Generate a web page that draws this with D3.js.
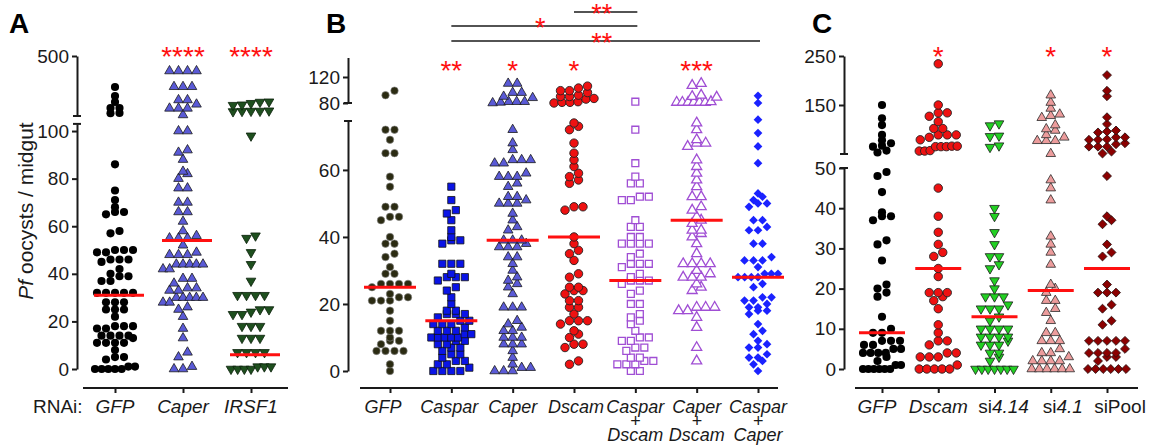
<!DOCTYPE html>
<html>
<head>
<meta charset="utf-8">
<script src="https://cdn.jsdelivr.net/npm/d3@7"></script>
<style>
  body { margin: 0; background: #fff; }
  text { font-family: "Liberation Sans", Arial, sans-serif; fill: #1a1a1a; }
</style>
</head>
<body>
<div id="chart"></div>
<script>
// ---- data (oocysts per midgut) ----
var groupsA = ["GFP", "Caper", "IRSF1"]
var aGFP = [293, 233, 193, 153, 153, 120, 118, 86, 75, 71, 68, 66, 66, 65, 58, 57, 50, 50, 50, 49, 49, 46, 46, 46, 45, 42, 40, 39, 39, 37, 37, 32, 32, 32, 32, 32, 28, 28, 28, 25, 25, 25, 22, 18, 18, 18, 17, 17, 14, 14, 14, 14, 13, 11, 11, 11, 11, 8, 5, 5, 4, 1, 1, 0, 0, 0, 0, 0]
var aCaper = [400, 400, 400, 400, 295, 295, 295, 207, 207, 178, 151, 151, 151, 107, 100, 100, 92, 91, 88, 83, 82, 80, 76, 76, 70, 70, 66, 66, 62, 58, 56, 55, 55, 55, 52, 49, 48, 48, 48, 44, 44, 44, 44, 44, 42, 42, 38, 38, 36, 34, 34, 33, 33, 30, 30, 30, 30, 30, 28, 28, 26, 25, 22, 17, 13, 7, 5, 1, 0, 0]
var aIRSF1 = [195, 193, 185, 175, 172, 135, 133, 133, 132, 130, 98, 56, 55, 49, 44, 37, 31, 31, 31, 31, 25, 25, 24, 23, 23, 18, 18, 18, 13, 13, 13, 7, 7, 7, 7, 1, 1, 1, 0, 0, 0, 0]
var medA = [31, 54, 6]
var starsA = ["", "****", "****"]

var groupsB = ["GFP", "Caspar", "Caper", "Dscam", "Caspar+Dscam", "Caper+Dscam", "Caspar+Caper"]
var bGFP = [99, 92, 72, 72, 69, 65, 65, 58, 55, 49, 49, 46, 46, 45, 40, 38, 38, 35, 34, 31, 29, 29, 26, 26, 26, 26, 25, 23, 22, 22, 21, 21, 21, 18, 15, 12, 12, 12, 10, 9, 9, 8, 6, 6, 6, 6, 2, 0]
var bCaspar = [55, 51, 48, 47, 45, 42, 40, 39, 39, 38, 32, 32, 32, 29, 28, 28, 28, 27, 25, 24, 22, 20, 18, 18, 17, 17, 17, 16, 15, 15, 14, 14, 14, 13, 12, 12, 12, 11, 11, 10, 10, 10, 10, 10, 9, 9, 8, 8, 7, 7, 6, 5, 5, 4, 3, 3, 2, 2, 1, 0, 0, 0, 0]
var bCaper = [110, 110, 96, 96, 90, 88, 82, 82, 82, 81, 80, 72, 68, 66, 63, 63, 63, 62, 62, 59, 58, 58, 58, 56, 55, 52, 52, 51, 50, 50, 50, 47, 45, 43, 42, 39, 39, 39, 38, 37, 37, 37, 34, 34, 32, 30, 28, 27, 26, 25, 23, 19, 19, 19, 15, 14, 13, 12, 12, 10, 10, 10, 8, 8, 8, 6, 4, 2, 1, 1, 0, 0, 0]
var bDscam = [106, 103, 99, 99, 96, 92, 90, 90, 87, 86, 82, 81, 81, 80, 74, 73, 72, 68, 65, 63, 61, 59, 58, 57, 56, 49, 49, 48, 40, 38, 36, 35, 33, 29, 28, 25, 25, 24, 24, 23, 21, 21, 19, 19, 17, 15, 15, 15, 14, 12, 11, 10, 8, 8, 7, 3, 2]
var bCasDs = [82, 72, 62, 58, 56, 56, 52, 52, 51, 51, 45, 43, 43, 40, 40, 38, 38, 38, 38, 35, 34, 32, 32, 32, 31, 29, 28, 27, 27, 27, 26, 24, 23, 20, 20, 17, 16, 15, 14, 12, 10, 10, 9, 9, 7, 7, 6, 4, 4, 3, 3, 2, 2, 2, 0, 0]
var bCapDs = [110, 107, 92, 90, 89, 82, 81, 81, 81, 81, 81, 81, 74, 72, 69, 68, 68, 67, 63, 61, 59, 57, 55, 52, 52, 49, 48, 46, 45, 44, 42, 42, 41, 40, 38, 35, 32, 32, 32, 32, 30, 29, 28, 28, 28, 26, 25, 24, 19, 19, 19, 18, 18, 16, 13, 7, 3]
var bCasCap = [91, 80, 75, 71, 67, 62, 53, 52, 51, 50, 50, 49, 45, 45, 43, 42, 42, 38, 38, 34, 33, 33, 33, 31, 29, 29, 29, 28, 28, 28, 28, 26, 25, 22, 22, 21, 21, 20, 19, 19, 18, 18, 17, 14, 12, 11, 9, 8, 7, 7, 5, 4, 4, 3, 2, 0]
var medB = [25, 15, 39, 40, 27, 45, 28]
var starsB = ["", "**", "*", "*", "", "***", ""]
// pairwise comparisons drawn above panel B: [from group, to group, stars]
var compB = [[3, 4, "**"], [1, 4, "*"], [1, 6, "**"]]

var groupsC = ["GFP", "Dscam", "si4.14", "si4.1", "siPool"]
var cGFP = [150, 123, 109, 89, 78, 72, 67, 65, 57, 53, 49, 48, 44, 39, 38, 38, 37, 32, 31, 27, 21, 20, 19, 18, 13, 10, 9, 9, 7, 7, 7, 6, 6, 5, 5, 4, 4, 4, 4, 3, 2, 1, 1, 0, 0, 0, 0, 0, 0]
var cDscam = [234, 150, 134, 134, 127, 116, 102, 102, 89, 89, 89, 84, 79, 66, 66, 65, 65, 65, 57, 56, 56, 45, 38, 34, 31, 29, 28, 25, 23, 19, 19, 19, 18, 17, 15, 11, 9, 7, 7, 6, 4, 4, 3, 3, 3, 1, 0, 0, 0, 0, 0]
var cSi414 = [112, 108, 87, 86, 67, 64, 40, 38, 34, 31, 28, 28, 26, 25, 22, 20, 18, 18, 18, 16, 15, 15, 15, 13, 12, 10, 10, 10, 10, 8, 8, 8, 8, 7, 6, 6, 6, 4, 4, 3, 2, 0, 0, 0, 0, 0, 0, 0]
var cSi41 = [170, 155, 143, 131, 128, 124, 109, 101, 98, 89, 84, 77, 77, 77, 50.5, 47, 45, 42, 33, 31, 29, 26, 21, 20, 19, 17, 17, 15, 14, 12, 9, 9, 7, 7, 7, 5, 4, 4, 3, 2, 2, 2, 2, 0, 0, 0, 0, 0, 0]
var cSiPool = [211, 179, 168, 125, 111, 98, 96, 94, 84, 84, 80, 79, 79, 72, 70, 65, 65, 65, 55, 51, 48, 38, 37, 36, 31, 29, 28, 21, 19, 19, 19, 16, 15, 12, 11, 7, 7, 7, 7, 7, 5, 4, 4, 4, 4, 3, 3, 2, 0, 0, 0, 0, 0, 0]
var medC = [9, 25, 13, 19.5, 25]
var starsC = ["", "*", "", "*", "*"]

// ---- drawing ----
var width = 1157, height = 447
var svg = d3.select("#chart").append("svg")
    .attr("width", width).attr("height", height)

var axisColor = "#1a1a1a"

// marker styles
var circle = d3.symbolCircle, tri = d3.symbolTriangle, sq = d3.symbolSquare
function sty(sym, size, fill, stroke, sw, rot) {
    return { sym: sym, size: size, fill: fill, stroke: stroke || "none", sw: sw || 0, rot: rot || 0 }
}

// Prism-like layout: points close in y share a row, rows are centred on the group
function rowLayout(vals, yf, gap, step, maxW) {
    var pts = vals.slice().sort((a, b) => a - b).map(v => ({ v: v, y: yf(v), x: 0 }))
    var row = []
    function flush() {
        var n = row.length
        var s = n > 1 ? Math.min(step, maxW / (n - 1)) : 0
        row.forEach((p, k) => { p.x = (k - (n - 1) / 2) * s })
        row = []
    }
    pts.forEach(function (p) {
        if (row.length && Math.abs(p.y - row[0].y) >= gap) flush()
        row.push(p)
    })
    flush()
    return pts
}

// draws a broken y axis: two scales, each with its own axis piece
function brokenAxis(g, x, low, lowTicks, up, upTicks) {
    var a1 = g.append("g").attr("transform", "translate(" + x + ",0)")
        .call(d3.axisLeft(low).tickValues(lowTicks).tickSize(5).tickPadding(3).tickSizeOuter(0))
    var a2 = g.append("g").attr("transform", "translate(" + x + ",0)")
        .call(d3.axisLeft(up).tickValues(upTicks).tickSize(5).tickPadding(3).tickSizeOuter(0))
    ;[a1, a2].forEach(function (a) {
        a.selectAll("path, line").attr("stroke", axisColor).attr("stroke-width", 2)
        a.selectAll("text").attr("font-size", 19).attr("fill", axisColor)
            .attr("font-family", "Liberation Sans, Arial, sans-serif")
    })
    // little caps at the break
    var capY = [up.range()[0], low.range()[1]]
    g.selectAll(null).data(capY).enter().append("line")
        .attr("x1", x - 4).attr("x2", x + 4)
        .attr("y1", d => d).attr("y2", d => d)
        .attr("stroke", axisColor).attr("stroke-width", 2)
}

function drawPanel(p) {
    var g = svg.append("g")
    var yOf = v => (v > p.cut ? p.up(v) : p.low(v))
    brokenAxis(g, p.axisX, p.low, p.lowTicks, p.up, p.upTicks)

    // x axis line with ticks
    g.append("g").attr("transform", "translate(0," + p.baseY + ")")
        .call(d3.axisBottom(p.x).tickSize(5).tickSizeOuter(0).tickFormat(""))
        .call(a => a.select(".domain").attr("d", "M" + p.xLine[0] + ",0H" + p.xLine[1]))
        .selectAll("path, line").attr("stroke", axisColor).attr("stroke-width", 2)

    // points
    p.groups.forEach(function (grp, i) {
        var s = p.styles[i]
        var pts = rowLayout(p.values[i], yOf, p.gap, 9, p.maxW)
        var cx = p.x(grp)
        g.append("g").selectAll("path").data(pts).enter().append("path")
            .attr("d", d3.symbol().type(s.sym).size(s.size))
            .attr("transform", d => "translate(" + (cx + d.x) + "," + d.y + ") rotate(" + s.rot + ")")
            .attr("fill", s.fill).attr("stroke", s.stroke).attr("stroke-width", s.sw)
    })

    // medians
    g.selectAll(".med").data(p.med).enter().append("line")
        .attr("x1", (d, i) => p.x(p.groups[i]) + p.medDx - p.medW)
        .attr("x2", (d, i) => p.x(p.groups[i]) + p.medDx + p.medW)
        .attr("y1", d => yOf(d)).attr("y2", d => yOf(d))
        .attr("stroke", "#ff1010").attr("stroke-width", 3)

    // significance stars
    g.selectAll(".star").data(p.stars).enter().append("text")
        .attr("x", (d, i) => p.x(p.groups[i]))
        .attr("y", p.starY)
        .attr("text-anchor", "middle").attr("font-size", 28)
        .style("fill", "#ff1010").text(d => d)

    // panel letter
    g.append("text").attr("x", p.letterX).attr("y", 33)
        .attr("font-size", 28).attr("font-weight", "bold").style("fill", "#000")
        .text(p.letter)
    return g
}

// panel A
var xA = d3.scalePoint().domain(groupsA).range([115, 251])
var gA = drawPanel({
    letter: "A", letterX: 9, groups: groupsA, values: [aGFP, aCaper, aIRSF1],
    styles: [sty(circle, 52, "#000"), sty(tri, 40, "#5a5ad6", "#1a1a1a", 0.8), sty(tri, 40, "#1e4f1e", "#0a1f0a", 0.8, 180)],
    gap: 5, maxW: 40,
    x: xA, axisX: 77, baseY: 388, xLine: [83, 288],
    low: d3.scaleLinear().domain([0, 103]).range([369, 123.9]), lowTicks: [0, 20, 40, 60, 80, 100],
    up: d3.scaleLinear().domain([100, 500]).range([116, 56]), upTicks: [500], cut: 103,
    med: medA, medW: 25, medDx: 4, stars: starsA, starY: 66
})
gA.selectAll(".xl").data(groupsA).enter().append("text")
    .attr("x", d => xA(d)).attr("y", 413).attr("text-anchor", "middle")
    .attr("font-size", 19).attr("font-style", "italic").text(d => d)
gA.append("text").attr("x", 33).attr("y", 413).attr("font-size", 19).text("RNAi:")
var yt = gA.append("text").attr("transform", "translate(33,211) rotate(-90)")
    .attr("text-anchor", "middle").attr("font-size", 21)
yt.append("tspan").attr("font-style", "italic").text("Pf")
yt.append("tspan").text(" oocysts / midgut")

// panel B
var xB = d3.scalePoint().domain(groupsB).range([390, 758])
var gB = drawPanel({
    letter: "B", letterX: 326, groups: groupsB, values: [bGFP, bCaspar, bCaper, bDscam, bCasDs, bCapDs, bCasCap],
    styles: [sty(circle, 44, "#2b2b12", "#888", 0.6), sty(sq, 52, "#0a14e6", "#111", 0.8), sty(tri, 40, "#5a5ad6", "#1a1a1a", 0.8),
        sty(circle, 56, "#ee1111", "#222", 0.9), sty(sq, 48, "#fff", "#a04ed4", 1.3), sty(tri, 44, "#fff", "#a04ed4", 1.3),
        sty(sq, 38, "#1a22ff", "none", 0, 45)],
    gap: 5.5, maxW: 40,
    x: xB, axisX: 348, baseY: 388, xLine: [360, 778],
    low: d3.scaleLinear().domain([0, 74.6]).range([371, 121]), lowTicks: [0, 20, 40, 60],
    up: d3.scaleLinear().domain([80, 150]).range([103, 57.5]), upTicks: [80, 120], cut: 77,
    med: medB, medW: 26, medDx: 0, stars: starsB, starY: 80
})
var bShift = [-7, -2, 0, 2, 0, 0, 0]
var bLines = groupsB.map(d => d.indexOf("+") > 0 ? [d.split("+")[0], "+", d.split("+")[1]] : [d])
bLines.forEach(function (lines, i) {
    var t = gB.append("text").attr("text-anchor", "middle").attr("font-size", 18).attr("font-style", "italic")
    lines.forEach(function (l, k) {
        t.append("tspan").attr("x", xB(groupsB[i]) + bShift[i]).attr("y", [413, 427, 441][k]).text(l)
    })
})
var compY = [12, 26, 41]
compB.forEach(function (c, k) {
    var x1 = xB(groupsB[c[0]]), x2 = xB(groupsB[c[1]]) + 2
    gB.append("line").attr("x1", x1).attr("x2", x2).attr("y1", compY[k]).attr("y2", compY[k])
        .attr("stroke", axisColor).attr("stroke-width", 1.5)
    gB.append("text").attr("x", (x1 + x2) / 2 - 4).attr("y", compY[k] + 11)
        .attr("text-anchor", "middle").attr("font-size", 27).style("fill", "#ff1010").text(c[2])
})

// panel C
var xC = d3.scalePoint().domain(groupsC).range([882, 1107])
var gC = drawPanel({
    letter: "C", letterX: 812, groups: groupsC, values: [cGFP, cDscam, cSi414, cSi41, cSiPool],
    styles: [sty(circle, 52, "#000"), sty(circle, 56, "#ee1111", "#222", 0.9), sty(tri, 40, "#22d022", "#1a1a1a", 0.8, 180),
        sty(tri, 40, "#ec9c9c", "#2a2a2a", 0.8), sty(sq, 40, "#8b0000", "#2a1010", 0.8, 45)],
    gap: 5, maxW: 38,
    x: xC, axisX: 844, baseY: 388, xLine: [855, 1138],
    low: d3.scaleLinear().domain([0, 50]).range([369, 168]), lowTicks: [0, 10, 20, 30, 40, 50],
    up: d3.scaleLinear().domain([50, 250]).range([154, 56]), upTicks: [150, 250], cut: 50,
    med: medC, medW: 23, medDx: 0, stars: starsC, starY: 66
})
var cShift = [-5, 0, 9, 12, 13]
var cLabels = [[["GFP", 1]], [["Dscam", 1]], [["si", 0], ["4.14", 1]], [["si", 0], ["4.1", 1]], [["siPool", 0]]]
cLabels.forEach(function (parts, i) {
    var t = gC.append("text").attr("x", xC(groupsC[i]) + cShift[i]).attr("y", 413)
        .attr("text-anchor", "middle").attr("font-size", 19)
    parts.forEach(pt => t.append("tspan").attr("font-style", pt[1] ? "italic" : "normal").text(pt[0]))
})
</script>
</body>
</html>
